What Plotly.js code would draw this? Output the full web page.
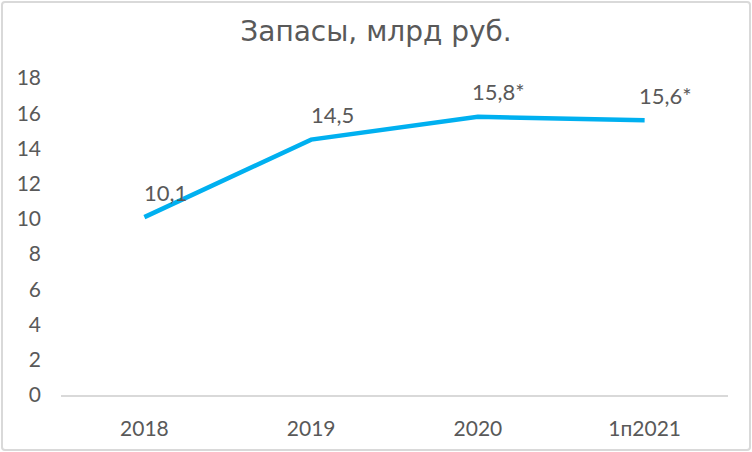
<!DOCTYPE html>
<html>
<head>
<meta charset="utf-8">
<script src="https://cdn.plot.ly/plotly-3.0.1.min.js"></script>
<style>
  html, body { margin: 0; padding: 0; background: #fff; }
  #wrap { position: relative; width: 752px; height: 452px; }
  #chart { position: absolute; left: 0; top: 0; width: 752px; height: 452px; }
  #frame { position: absolute; left: 1px; top: 1px; width: 746px; height: 446px;
           border: 2px solid #d9d9d9; border-radius: 4px; pointer-events: none; }
</style>
</head>
<body>
<div id="wrap">
  <div id="chart"></div>
  <div id="frame"></div>
</div>
<script>
const categories = ['2018', '2019', '2020', '1п2021'];
const values = [10.1, 14.5, 15.8, 15.6];
const labels = ['10,1', '14,5', '15,8*', '15,6*'];
const yTicks = [0, 2, 4, 6, 8, 10, 12, 14, 16, 18];

const font = 'Lato, "Noto Sans", "DejaVu Sans", sans-serif';
const titleFont = '"DejaVu Sans", Lato, sans-serif';
const gray = '#595959';

const trace = {
  type: 'scatter',
  mode: 'lines',
  x: categories,
  y: values,
  line: { color: '#00B0F0', width: 4.5 },
  hoverinfo: 'skip'
};

// category axis: annotation x given as category index
const annotations = categories.map((c, i) => ({
  x: i, y: values[i], xref: 'x', yref: 'y',
  text: labels[i], showarrow: false,
  xshift: 21, yshift: 25,
  font: { family: font, size: 22, color: gray }
}));

const layout = {
  width: 752, height: 452,
  margin: { l: 61, r: 24, t: 78, b: 57 },
  paper_bgcolor: '#ffffff', plot_bgcolor: '#ffffff',
  title: { text: 'Запасы, млрд руб.', x: 0.5, xanchor: 'center', y: 0.93, yanchor: 'middle',
           font: { family: titleFont, size: 28, color: gray } },
  showlegend: false,
  xaxis: {
    type: 'category',
    categoryorder: 'array', categoryarray: categories,
    range: [-0.5, categories.length - 0.5], autorange: false,
    showgrid: false, zeroline: false,
    showline: true, linecolor: '#d9d9d9', linewidth: 2,
    ticks: '', ticklabelstandoff: 14,
    tickfont: { family: font, size: 21, color: gray }
  },
  yaxis: {
    range: [0, 18], autorange: false, tickvals: yTicks, ticktext: yTicks.map(String),
    showgrid: false, zeroline: false, showline: false,
    ticks: '', ticklabelstandoff: 19,
    tickfont: { family: font, size: 21, color: gray }
  },
  annotations: annotations
};

Plotly.newPlot('chart', [trace], layout, { staticPlot: true, displayModeBar: false });
</script>
</body>
</html>
